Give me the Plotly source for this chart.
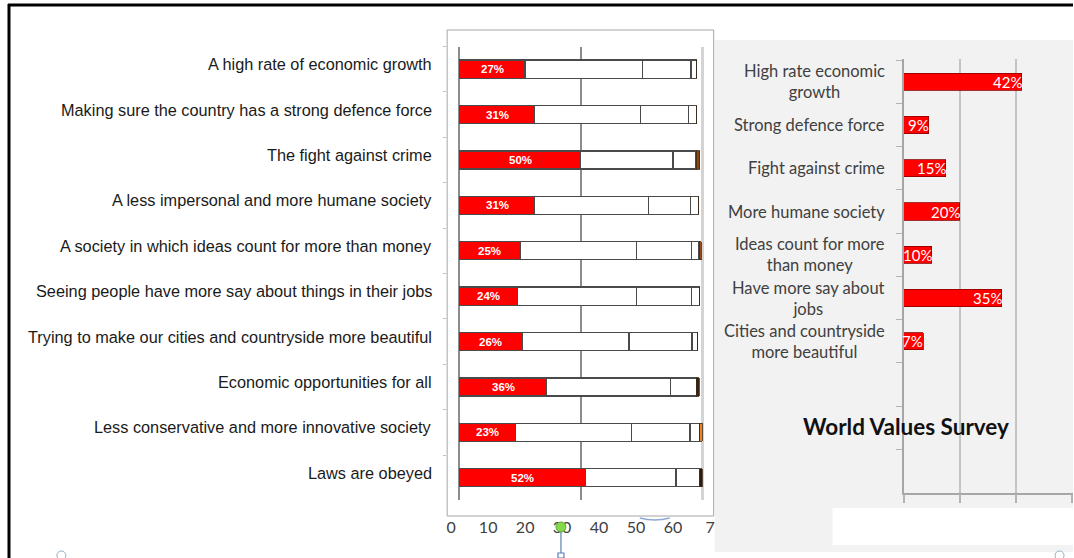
import plotly.graph_objects as go

W, H = 1074, 558

def fx(px):
    return px / W

def fy(py):
    return 1 - py / H

# ---------------- data ----------------
left_categories = [
    "A high rate of economic growth",
    "Making sure the country has a strong defence force",
    "The fight against crime",
    "A less impersonal and more humane society",
    "A society in which ideas count for more than money",
    "Seeing people have more say about things in their jobs",
    "Trying to make our cities and countryside more beautiful",
    "Economic opportunities for all",
    "Less conservative and more innovative society",
    "Laws are obeyed",
]
first_choice = [27, 31, 50, 31, 25, 24, 26, 36, 23, 52]
seg2 = [48.5, 43.7, 38.0, 46.8, 47.9, 48.9, 43.9, 51.0, 48.0, 37.3]
seg3 = [20.0, 19.7, 9.2, 17.5, 22.9, 22.9, 26.0, 10.7, 24.0, 9.7]
seg4 = [2.1, 3.2, 0.5, 3.3, 3.0, 3.3, 2.1, 0.0, 4.1, 0.0]
seg5 = [0.0, 0.0, 1.4, 0.0, 0.9, 0.0, 0.0, 1.2, 1.0, 1.1]
seg5_colors = ["#8b4513", "#8b4513", "#8b4513", "#8b4513", "#9a4a12",
               "#8b4513", "#8b4513", "#3a2210", "#f08020", "#2e1a0c"]

bottom_tick_vals = [0, 10, 20, 30, 40, 50, 60, 70]
bottom_tick_text = ["0", "10", "20", "30", "40", "50", "60", "7"]

right_categories = [
    "High rate economic<br>growth",
    "Strong defence force",
    "Fight against crime",
    "More humane society",
    "Ideas count for more<br>than money",
    "Have more say about<br>jobs",
    "Cities and countryside<br>more beautiful",
    " ", "  ", "   ",
]
right_values = [42, 9, 15, 20, 10, 35, 7, None, None, None]
right_title = "World Values Survey"

# ---------------- figure ----------------
fig = go.Figure()

seg_line = dict(color="#4a4a4a", width=1.3)
fig.add_trace(go.Bar(y=left_categories, x=first_choice, orientation="h",
                     marker=dict(color="#ff0000", line=seg_line),
                     xaxis="x", yaxis="y", name="First choice"))
for vals, col, nm in [(seg2, "#ffffff", "Second"), (seg3, "#ffffff", "Third"),
                      (seg4, "#ffffff", "Fourth")]:
    fig.add_trace(go.Bar(y=left_categories, x=vals, orientation="h",
                         marker=dict(color=col, line=seg_line),
                         xaxis="x", yaxis="y", name=nm))
fig.add_trace(go.Bar(y=left_categories, x=seg5, orientation="h",
                     marker=dict(color=seg5_colors, line=dict(color="#3a2a1a", width=0.8)),
                     xaxis="x", yaxis="y", name="Fifth"))

# dummy trace for bottom tick axis
fig.add_trace(go.Scatter(x=[None], y=[None], xaxis="x3", yaxis="y", showlegend=False))

fig.add_trace(go.Bar(y=right_categories, x=right_values, orientation="h",
                     marker=dict(color="#ff0000", line=dict(color="#8b0000", width=0.8)),
                     xaxis="x2", yaxis="y2", name="WVS"))

annotations = []
for cat, v in zip(left_categories, first_choice):
    annotations.append(dict(x=v / 2, y=cat, xref="x", yref="y", text=f"<b>{v}%</b>",
                            showarrow=False, xanchor="center", yanchor="middle",
                            font=dict(family="Liberation Sans Narrow, Arial Narrow, Liberation Sans, sans-serif",
                                      size=11.5, color="white")))
    annotations.append(dict(x=fx(434), y=cat, xref="paper", yref="y", text=cat,
                            showarrow=False, xanchor="right", yanchor="middle", yshift=5,
                            font=dict(family="Liberation Sans, Arial, sans-serif",
                                      size=16.3, color="#1a1a1a")))
for cat, v in zip(right_categories, right_values):
    if v is None:
        continue
    annotations.append(dict(x=v, y=cat, xref="x2", yref="y2", text=f"{v}%",
                            showarrow=False, xanchor="right", yanchor="middle", xshift=2,
                            font=dict(family="Lato, sans-serif", size=15, color="white")))
    annotations.append(dict(x=fx(888), y=cat, xref="paper", yref="y2", text=cat,
                            showarrow=False, xanchor="right", yanchor="middle", align="center",
                            font=dict(family="Lato, sans-serif", size=16.5, color="#404040")))
annotations.append(dict(x=fx(907), y=fy(426), xref="paper", yref="paper", text=f"<b>{right_title}</b>",
                        showarrow=False, xanchor="center", yanchor="middle",
                        font=dict(family="Lato, sans-serif", size=22.5, color="#111111")))

shapes = [
    dict(type="rect", xref="paper", yref="paper", x0=fx(715), x1=1, y0=fy(552), y1=fy(40),
         fillcolor="#f2f2f2", line=dict(width=0), layer="below"),
    dict(type="rect", xref="paper", yref="paper", x0=fx(833), x1=1, y0=fy(545), y1=fy(508),
         fillcolor="#ffffff", line=dict(width=0), layer="below"),
    dict(type="rect", xref="paper", yref="paper", x0=fx(447), x1=fx(714), y0=fy(516), y1=fy(30),
         fillcolor="#ffffff", line=dict(color="#a6a6a6", width=1), layer="below"),
    dict(type="line", xref="paper", yref="paper", x0=fx(7), x1=1, y0=fy(5), y1=fy(5),
         line=dict(color="#000000", width=3)),
    dict(type="line", xref="paper", yref="paper", x0=fx(8), x1=fx(8), y0=fy(4), y1=0,
         line=dict(color="#000000", width=3)),
    # selection handle artefacts
    dict(type="line", xref="paper", yref="paper", x0=fx(561), x1=fx(561), y0=fy(532), y1=fy(553),
         line=dict(color="#5b7fb8", width=1.2)),
    dict(type="rect", xref="paper", yref="paper", x0=fx(558), x1=fx(564), y0=0, y1=fy(553),
         fillcolor="#ffffff", line=dict(color="#5b7fb8", width=1.2)),
    dict(type="circle", xref="paper", yref="paper", x0=fx(556), x1=fx(566), y0=fy(532), y1=fy(522),
         fillcolor="#86d94a", line=dict(color="#5fa832", width=1)),
    dict(type="path", xref="paper", yref="paper",
         path=f"M {fx(640)},{fy(518)} Q {fx(655)},{fy(522)} {fx(670)},{fy(518)}",
         line=dict(color="#8fa9d6", width=1.5)),
    dict(type="circle", xref="paper", yref="paper", x0=fx(56), x1=fx(65), y0=fy(560), y1=fy(551),
         fillcolor="#ffffff", line=dict(color="#8fb0c0", width=1)),
    dict(type="circle", xref="paper", yref="paper", x0=fx(1056), x1=fx(1065), y0=fy(560), y1=fy(551),
         fillcolor="#ffffff", line=dict(color="#8fb0c0", width=1)),
]

fig.update_layout(
    width=W, height=H,
    margin=dict(l=0, r=0, t=0, b=0),
    paper_bgcolor="#ffffff", plot_bgcolor="rgba(0,0,0,0)",
    barmode="stack", bargap=0.6, showlegend=False,
    annotations=annotations, shapes=shapes,
    xaxis=dict(domain=[fx(447), fx(714)], range=[-5.06, 104.8], tickvals=[0, 50],
               showticklabels=False, showgrid=True, gridcolor="#8c8c8c", gridwidth=1.5,
               zeroline=False, showline=False, ticks="",
               minor=dict(tickvals=[100], showgrid=True, gridcolor="#d4d4d4", gridwidth=2.5)),
    yaxis=dict(domain=[fy(500.4), fy(46.5)], autorange="reversed", anchor="x",
               showticklabels=False, ticks="outside", ticklen=3, tickcolor="#c0c0c0",
               tickson="boundaries", showgrid=False, zeroline=False, showline=False),
    xaxis3=dict(overlaying="x", anchor="free", position=fy(515.5), side="bottom",
                range=[-1.08, 70.98], tickvals=bottom_tick_vals, ticktext=bottom_tick_text,
                showgrid=False, zeroline=False, showline=False, ticks="",
                tickfont=dict(family="Lato, sans-serif", size=16, color="#404040")),
    xaxis2=dict(domain=[fx(904.3), 1], range=[0, 60.28], anchor="y2",
                tickvals=[0, 20, 40, 60], showticklabels=False, showgrid=True,
                gridcolor="#c4c4c4", gridwidth=1.5, zeroline=False,
                showline=True, linecolor="#a6a6a6", linewidth=1.5,
                ticks="outside", ticklen=9, tickcolor="#b4b4b4", tickwidth=1.5),
    yaxis2=dict(domain=[fy(492.7), fy(59.3)], autorange="reversed", anchor="x2",
                showticklabels=False, ticks="outside", ticklen=6, tickcolor="#b4b4b4",
                tickwidth=1.2, tickson="boundaries", showgrid=False, zeroline=False,
                showline=True, linecolor="#a6a6a6", linewidth=1.5),
)

fig.write_html("out.html", config={"displayModeBar": False},
               post_script="document.body.style.margin='0';document.body.style.overflow='hidden';")
